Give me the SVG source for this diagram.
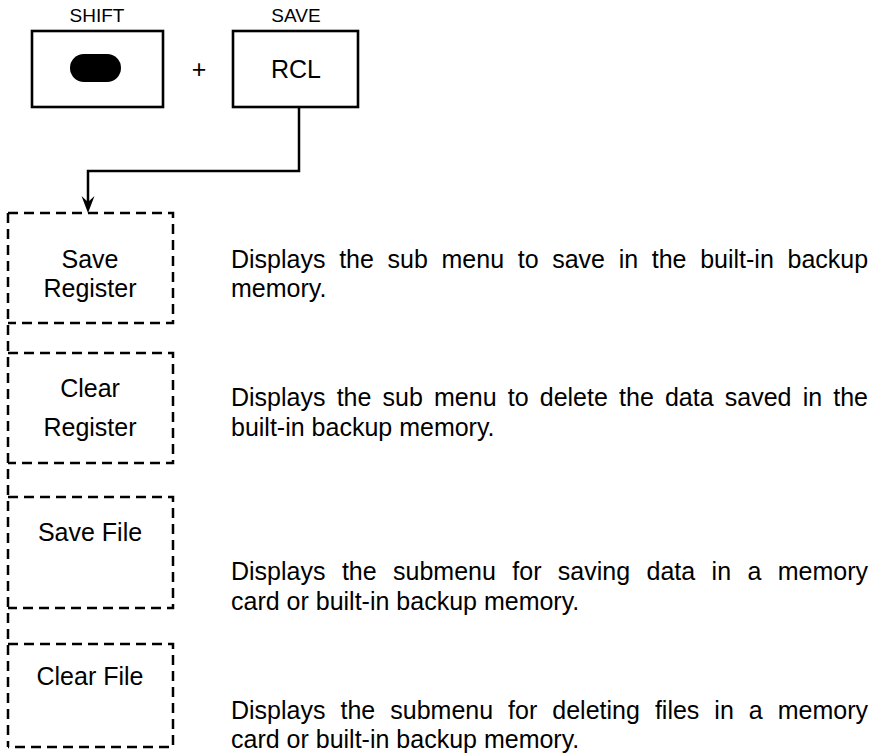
<svg xmlns="http://www.w3.org/2000/svg" width="890" height="753" viewBox="0 0 890 753">
<defs>
<style>
text{font-family:"Liberation Sans",Arial,Helvetica,sans-serif;fill:#000}
.lbl{font-size:25px;text-anchor:middle}
.top{font-size:19px;text-anchor:middle}
.desc{font-size:25px}
.key{fill:#fff;stroke:#000;stroke-width:2.6}
.dash{fill:none;stroke:#000;stroke-width:2.5;stroke-dasharray:10 6}
.conn{fill:none;stroke:#000;stroke-width:2.5}
</style>
<marker id="arr" markerUnits="userSpaceOnUse" viewBox="-18 -8 19 16" refX="-6" refY="0" markerWidth="19" markerHeight="16" orient="auto">
<path d="M0,0 L-17,-6.5 L-11,0 L-17,6.5 Z" fill="#000"/>
</marker>
</defs>
<rect width="890" height="753" fill="#fff"/>

<g id="shift-key">
<text class="top" x="97" y="22">SHIFT</text>
<rect class="key" x="32" y="31" width="131" height="76"/>
<rect x="70" y="54" width="51" height="28" rx="14" fill="#000"/>
</g>
<g id="plus"><text class="lbl" x="199" y="78">+</text></g>
<g id="rcl-key">
<text class="top" x="296" y="22">SAVE</text>
<rect class="key" x="233" y="31" width="125" height="76"/>
<text class="lbl" x="296" y="78">RCL</text>
</g>

<g id="connectors">
<path class="conn" d="M299,107 V171 H88 V207" marker-end="url(#arr)"/>
</g>

<g id="menu-frame">
<line class="dash" x1="8" y1="213" x2="8" y2="747"/>
</g>
<g id="save-register">
<path class="dash" d="M8,213 H173 V323 H8"/>
<text class="lbl" x="90" y="268">Save</text>
<text class="lbl" x="90" y="297">Register</text>
<text class="desc" x="231" y="268" style="word-spacing:6.71px">Displays the sub menu to save in the built-in backup</text>
<text class="desc" x="231" y="297">memory.</text>
</g>
<g id="clear-register">
<path class="dash" d="M8,353 H173 V463 H8"/>
<text class="lbl" x="90" y="397">Clear</text>
<text class="lbl" x="90" y="436">Register</text>
<text class="desc" x="231" y="406" style="word-spacing:4.22px">Displays the sub menu to delete the data saved in the</text>
<text class="desc" x="231" y="436">built-in backup memory.</text>
</g>
<g id="save-file">
<path class="dash" d="M8,497 H173 V608 H8"/>
<text class="lbl" x="90" y="541">Save File</text>
<text class="desc" x="231" y="580" style="word-spacing:9.46px">Displays the submenu for saving data in a memory</text>
<text class="desc" x="231" y="610">card or built-in backup memory.</text>
</g>
<g id="clear-file">
<path class="dash" d="M8,644 H173 V747 H8"/>
<text class="lbl" x="90" y="685">Clear File</text>
<text class="desc" x="231" y="719" style="word-spacing:8.07px">Displays the submenu for deleting files in a memory</text>
<text class="desc" x="231" y="748">card or built-in backup memory.</text>
</g>
</svg>
